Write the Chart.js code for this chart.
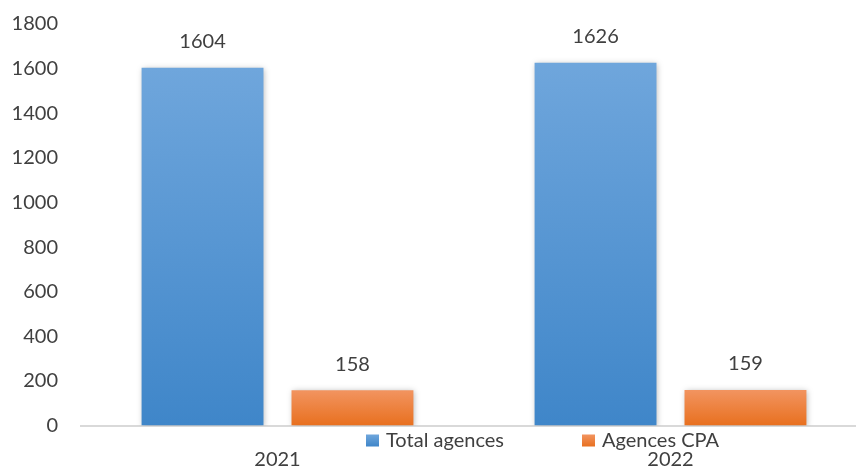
<!DOCTYPE html>
<html>
<head>
<meta charset="utf-8">
<script src="https://cdn.jsdelivr.net/npm/chart.js@4.4.1/dist/chart.umd.min.js"></script>
<style>
  html, body { margin: 0; padding: 0; background: #fff; overflow: hidden; }
  #wrap { width: 856px; height: 468px; overflow: hidden; }
  #chart { display: block; margin-top: -11px; }
</style>
</head>
<body>
<div id="wrap"><canvas id="chart" width="870" height="479"></canvas></div>
<script>
const years = ["2021", "2022"];
const totalAgences = [1604, 1626];
const agencesCPA = [158, 159];
const seriesNames = ["Total agences", "Agences CPA"];
const yTicks = [0, 200, 400, 600, 800, 1000, 1200, 1400, 1600, 1800];

const textColor = "#404040";
const fontFamily = "Lato, 'Open Sans', sans-serif";

// vertical gradient across each bar, lighter at the top
function barGradient(top, bottom) {
  return (ctx) => {
    const chart = ctx.chart;
    const area = chart.chartArea;
    if (!area || ctx.type !== "data") return top;
    const y0 = chart.scales.y.getPixelForValue(ctx.raw);
    const g = chart.ctx.createLinearGradient(0, y0, 0, area.bottom);
    g.addColorStop(0, top);
    g.addColorStop(1, bottom);
    return g;
  };
}

// soft shadow around bars
const barShadow = {
  id: "barShadow",
  beforeDatasetsDraw(chart) {
    const c = chart.ctx;
    c.save();
    c.shadowColor = "rgba(0,0,0,0.28)";
    c.shadowBlur = 6;
    c.shadowOffsetX = 1;
    c.shadowOffsetY = 1;
  },
  afterDatasetsDraw(chart) {
    chart.ctx.restore();
  }
};

// value labels above each bar
const valueLabels = {
  id: "valueLabels",
  afterDatasetsDraw(chart) {
    const c = chart.ctx;
    c.save();
    c.font = "20px " + fontFamily;
    c.fillStyle = textColor;
    c.textAlign = "center";
    c.textBaseline = "middle";
    chart.data.datasets.forEach((ds, i) => {
      chart.getDatasetMeta(i).data.forEach((bar, j) => {
        c.fillText(String(ds.data[j]), bar.x, bar.y - 26);
      });
    });
    c.restore();
  }
};

// legend sitting just under the axis line, offset to the right
const bottomLegend = {
  id: "bottomLegend",
  afterDraw(chart) {
    const c = chart.ctx;
    const starts = [366, 582];
    const y = chart.chartArea.bottom + 15;
    c.save();
    c.font = "20px " + fontFamily;
    c.textBaseline = "middle";
    c.textAlign = "left";
    chart.data.datasets.forEach((ds, i) => {
      const x = starts[i];
      const g = c.createLinearGradient(0, y - 6, 0, y + 6);
      g.addColorStop(0, i === 0 ? "#6fa6dc" : "#f29460");
      g.addColorStop(1, i === 0 ? "#3f86c9" : "#e8701f");
      c.fillStyle = g;
      c.fillRect(x, y - 6, 13, 12);
      c.fillStyle = textColor;
      c.fillText(ds.label, x + 20, y);
    });
    c.restore();
  }
};

new Chart(document.getElementById("chart"), {
  type: "bar",
  data: {
    labels: years,
    datasets: [
      {
        label: seriesNames[0],
        data: totalAgences,
        backgroundColor: barGradient("#6fa6dc", "#3f86c9"),
        borderWidth: 0,
        barPercentage: 0.813,
        categoryPercentage: 0.763
      },
      {
        label: seriesNames[1],
        data: agencesCPA,
        backgroundColor: barGradient("#f29460", "#e8701f"),
        borderWidth: 0,
        barPercentage: 0.813,
        categoryPercentage: 0.763
      }
    ]
  },
  options: {
    responsive: false,
    animation: false,
    layout: { autoPadding: false, padding: { top: 24, right: 3, left: 0, bottom: 0 } },
    scales: {
      x: {
        grid: { display: false, drawTicks: false },
        border: { display: true, color: "#d9d9d9", width: 2 },
        ticks: {
          color: textColor,
          font: { family: fontFamily, size: 20 },
          padding: 22
        },
        afterFit(scale) { scale.height = 42.5; }
      },
      y: {
        min: 0,
        max: 1800,
        grid: { display: false, drawTicks: false },
        border: { display: false },
        afterBuildTicks(scale) {
          scale.ticks = yTicks.map((v) => ({ value: v }));
        },
        ticks: {
          color: textColor,
          font: { family: fontFamily, size: 20 },
          padding: 23,
          callback: (v) => String(v)
        },
        afterFit(scale) { scale.width = 81; }
      }
    },
    plugins: {
      legend: { display: false },
      tooltip: { enabled: false }
    }
  },
  plugins: [barShadow, valueLabels, bottomLegend]
});
</script>
</body>
</html>
